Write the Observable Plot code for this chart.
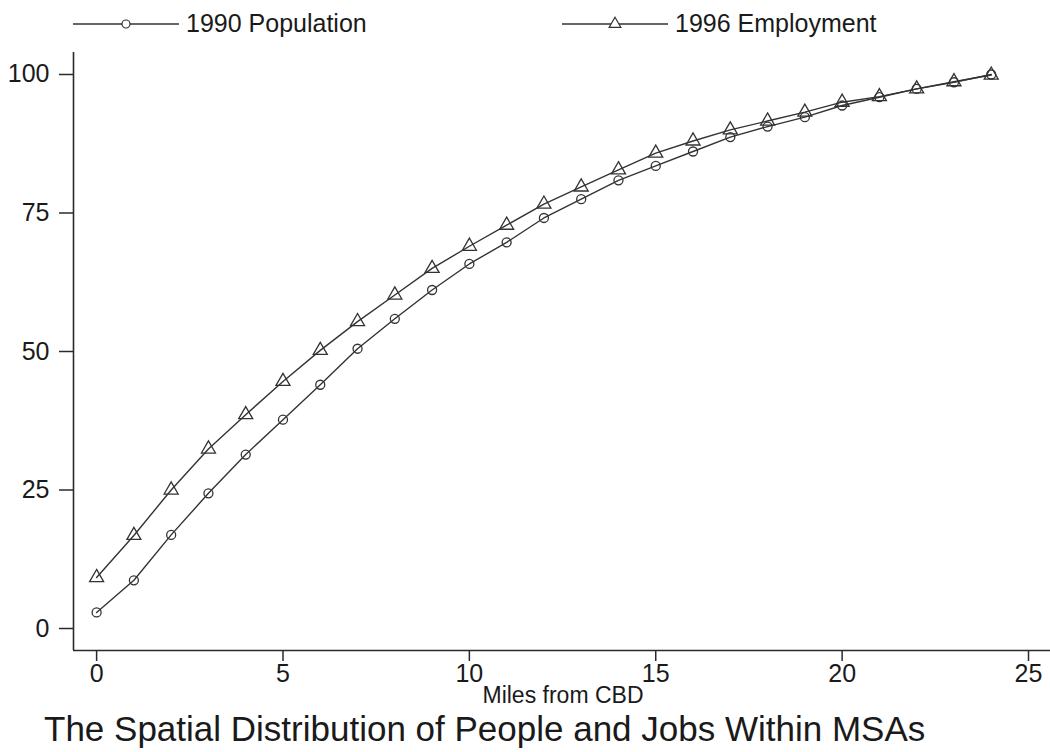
<!DOCTYPE html>
<html><head><meta charset="utf-8">
<script src="https://cdn.jsdelivr.net/npm/d3@7"></script>
<script src="https://cdn.jsdelivr.net/npm/@observablehq/plot@0.6"></script>
<style>
body{margin:0;background:#fff;font-family:"Liberation Sans",Arial,sans-serif;color:#1a1a1a;}
#wrap{position:relative;width:1050px;height:752px;overflow:hidden;background:#fff;}
#chart{position:absolute;left:0;top:0;}
.legtext{position:absolute;font-size:25px;line-height:25px;white-space:nowrap;}
.legsym{position:absolute;}
#xlabel{position:absolute;left:463px;width:200px;text-align:center;top:684px;font-size:23px;line-height:23px;white-space:nowrap;}
#title{position:absolute;left:44px;top:711px;font-size:35px;line-height:35px;white-space:nowrap;}
</style></head><body>
<div id="wrap"><div id="chart"></div><div id="legend"></div>
<div id="xlabel"></div>
<div id="title">The Spatial Distribution of People and Jobs Within MSAs</div></div>
<script>
const miles = [0,1,2,3,4,5,6,7,8,9,10,11,12,13,14,15,16,17,18,19,20,21,22,23,24];
const population = [2.9,8.7,16.9,24.4,31.4,37.7,44.0,50.5,55.9,61.1,65.8,69.7,74.1,77.5,80.9,83.5,86.1,88.7,90.6,92.3,94.4,95.9,97.4,98.6,100.0];
const employment = [9.2,16.8,25.0,32.4,38.6,44.6,50.2,55.4,60.2,65.0,69.0,72.8,76.6,79.7,82.8,85.8,88.0,90.0,91.6,93.2,95.0,96.0,97.4,98.7,99.9];
const seriesNames = ["1990 Population","1996 Employment"];
const seriesSymbols = ["circle","triangle"];
const xTicks = [0,5,10,15,20,25];
const yTicks = [0,25,50,75,100];
const xLabel = "Miles from CBD";
const xDomain = [-0.62, 25.59];
const yDomain = [-3.97, 103.97];

const popData = miles.map((m,i)=>({miles:m, value:population[i]}));
const empData = miles.map((m,i)=>({miles:m, value:employment[i]}));
const ink = "#2a2a2a";

const chart = Plot.plot({
  width:1050, height:700,
  marginLeft:73, marginRight:0, marginTop:52, marginBottom:50,
  x:{domain:xDomain},
  y:{domain:yDomain},
  style:{fontFamily:"'Liberation Sans', Arial, sans-serif", fontSize:"25px", color:"#1a1a1a", background:"transparent"},
  marks:[
    Plot.ruleX([xDomain[0]], {stroke:ink, strokeWidth:1.6}),
    Plot.ruleY([yDomain[0]], {stroke:ink, strokeWidth:1.6}),
    Plot.axisY({ticks:yTicks, tickSize:14, tickPadding:10, label:null, stroke:ink, strokeWidth:1.5}),
    Plot.axisX({ticks:xTicks, tickSize:11, tickPadding:3, label:null, stroke:ink, strokeWidth:1.5}),
    Plot.line(popData, {x:"miles", y:"value", stroke:"#333", strokeWidth:1.4}),
    Plot.line(empData, {x:"miles", y:"value", stroke:"#333", strokeWidth:1.4}),
    Plot.dot(popData, {x:"miles", y:"value", symbol:"circle", r:4.5, stroke:"#333", strokeWidth:1.3, fill:"none"}),
    Plot.dot(empData, {x:"miles", y:"value", symbol:"triangle", r:5.2, stroke:"#333", strokeWidth:1.3, fill:"none"})
  ]
});
document.getElementById("chart").append(chart);
document.getElementById("xlabel").textContent = xLabel;

// legend
const leg = d3.select("#legend");
const legPos = [73, 562];
seriesNames.forEach((name,i)=>{
  const x0 = legPos[i];
  const svg = leg.append("svg").attr("class","legsym")
    .style("left", x0+"px").style("top","12px")
    .attr("width",106).attr("height",24);
  svg.append("line").attr("x1",0).attr("x2",106).attr("y1",12).attr("y2",12)
    .attr("stroke","#333").attr("stroke-width",1.6);
  svg.append("path").attr("transform","translate(53,12)")
    .attr("d", d3.symbol(seriesSymbols[i]==="circle"?d3.symbolCircle:d3.symbolTriangle, seriesSymbols[i]==="circle"?50:60)())
    .attr("fill","white").attr("stroke","#333").attr("stroke-width",1.2);
  leg.append("div").attr("class","legtext").style("left",(x0+113)+"px").style("top","11px").text(name);
});
</script>
</body></html>
